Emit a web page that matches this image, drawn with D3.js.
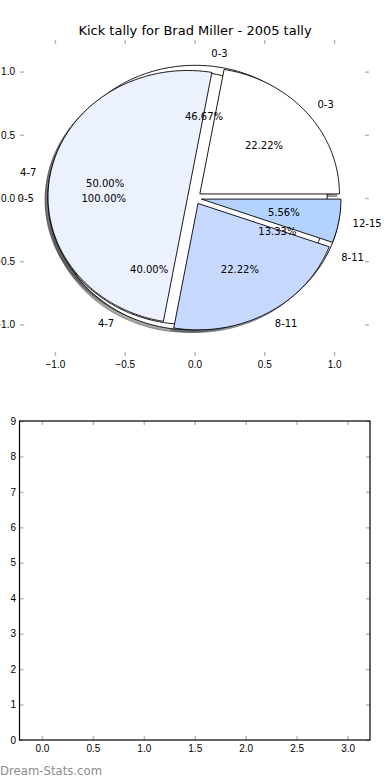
<!DOCTYPE html>
<html>
<head>
  <meta charset="UTF-8" />
  <script src="https://d3js.org/d3.v7.min.js"></script>
  <style>
    body { margin: 0; background: #fff; }
    svg { display: block; font-family: "DejaVu Sans", sans-serif; }
    .tick line { stroke: #b8b8b8; stroke-width: 1.5; }
    .tick text { font-size: 10px; fill: #000; }
  </style>
</head>
<body>
  <div id="chart"></div>
  <script>
    // pie data: three tallies drawn on the same axes
    const labels1 = ["0-3", "4-7", "8-11", "12-15"];
    const values1 = [4, 9, 4, 1];
    const labels2 = ["0-3", "4-7", "8-11"];
    const values2 = [7, 6, 2];
    const labels3 = ["0-5"];
    const values3 = [1];

    const colors1 = ["#ffffff", "#ebf1fd", "#c6d8fd", "#b3d3fe"];
    const colors2 = ["#ffffff", "#ffffff", "#ffffff"];
    const colors3 = ["#ffffff"];

    const pieTicks = [-1.0, -0.5, 0.0, 0.5, 1.0];
    const barXTicks = [0.0, 0.5, 1.0, 1.5, 2.0, 2.5, 3.0];
    const barYTicks = [0, 1, 2, 3, 4, 5, 6, 7, 8, 9];

    const width = 390, height = 780;
    const explode = 0.05;

    const svg = d3.select("#chart").append("svg")
      .attr("width", width)
      .attr("height", height);

    // top axes (pie)
    const x1 = d3.scaleLinear().domain([-1.25, 1.25]).range([20, 369]);
    const y1 = d3.scaleLinear().domain([-1.25, 1.25]).range([356, 40]);

    svg.append("text")
      .attr("x", 195).attr("y", 34.5)
      .attr("text-anchor", "middle")
      .attr("font-size", 13)
      .text("Kick tally for Brad Miller - 2005 tally");

    const fmt = d3.format(".1f");

    function addTicks(g, x, y, xt, yt, showBox, yPad) {
      const [l, r] = x.range();
      const [b, t] = y.range();
      g.append("g").attr("transform", `translate(0,${b})`)
        .call(d3.axisBottom(x).tickValues(xt).tickFormat(fmt).tickSizeInner(-4).tickSizeOuter(0).tickPadding(5))
        .call(a => a.select(".domain").remove());
      g.append("g").attr("transform", `translate(0,${t})`)
        .call(d3.axisTop(x).tickValues(xt).tickFormat("").tickSizeInner(-4).tickSizeOuter(0))
        .call(a => a.select(".domain").remove());
      g.append("g").attr("transform", `translate(${l},0)`)
        .call(d3.axisLeft(y).tickValues(yt).tickFormat(y === y1 ? fmt : d3.format("d")).tickSizeInner(-4).tickSizeOuter(0).tickPadding(yPad))
        .call(a => a.select(".domain").remove());
      g.append("g").attr("transform", `translate(${r},0)`)
        .call(d3.axisRight(y).tickValues(yt).tickFormat("").tickSizeInner(-4).tickSizeOuter(0))
        .call(a => a.select(".domain").remove());
      if (showBox) {
        g.append("rect")
          .attr("x", l).attr("y", t)
          .attr("width", r - l).attr("height", b - t)
          .attr("fill", "none").attr("stroke", "#000").attr("stroke-width", 1.2);
      }
    }

    addTicks(svg.append("g"), x1, y1, pieTicks, pieTicks, false, 5);

    const pie = d3.pie().sort(null).startAngle(0).endAngle(2 * Math.PI);

    function wedgePoints(cx, cy, a0, a1, full) {
      const n = Math.max(8, Math.ceil((a1 - a0) / (Math.PI / 180)));
      const pts = full ? [] : [[cx, cy]];
      for (let i = 0; i <= n; i++) {
        const a = a0 + (a1 - a0) * i / n;
        pts.push([cx + Math.cos(a), cy + Math.sin(a)]);
      }
      return pts;
    }

    function buildPie(labels, values, colors) {
      const total = d3.sum(values);
      return pie(values).map((d, i) => {
        const mid = (d.startAngle + d.endAngle) / 2;
        return {
          label: labels[i],
          pct: (100 * values[i] / total).toFixed(2) + "%",
          color: colors[i],
          a0: d.startAngle, a1: d.endAngle, mid,
          cx: explode * Math.cos(mid), cy: explode * Math.sin(mid),
          full: values.length === 1
        };
      });
    }

    const pies = [
      buildPie(labels2, values2, colors2),
      buildPie(labels3, values3, colors3),
      buildPie(labels1, values1, colors1)
    ];

    const line = d3.line().curve(d3.curveLinearClosed);
    const pieG = svg.append("g");

    // shadows under everything
    pies.flat().forEach(w => {
      const c = d3.rgb(w.color);
      const sc = d3.rgb(c.r * 0.3, c.g * 0.3, c.b * 0.3);
      pieG.append("path")
        .attr("d", line(wedgePoints(w.cx - 0.02, w.cy - 0.02, w.a0, w.a1, w.full).map(p => [x1(p[0]), y1(p[1])])))
        .attr("fill", sc).attr("fill-opacity", 0.5)
        .attr("stroke", sc).attr("stroke-opacity", 0.5).attr("stroke-width", 1);
    });

    pies.flat().forEach(w => {
      pieG.append("path")
        .attr("d", line(wedgePoints(w.cx, w.cy, w.a0, w.a1, w.full).map(p => [x1(p[0]), y1(p[1])])))
        .attr("fill", w.color)
        .attr("stroke", "#000").attr("stroke-width", 0.9)
        .attr("stroke-linejoin", "round");
    });

    pies.flat().forEach(w => {
      const lx = w.cx + 1.1 * Math.cos(w.mid);
      const ly = w.cy + 1.1 * Math.sin(w.mid);
      pieG.append("text")
        .attr("x", x1(lx)).attr("y", y1(ly))
        .attr("dy", "0.35em")
        .attr("text-anchor", lx > 0 ? "start" : "end")
        .attr("font-size", 10)
        .text(w.label);
      const px = w.cx + 0.6 * Math.cos(w.mid);
      const py = w.cy + 0.6 * Math.sin(w.mid);
      pieG.append("text")
        .attr("x", x1(px)).attr("y", y1(py))
        .attr("dy", "0.35em")
        .attr("text-anchor", "middle")
        .attr("font-size", 10)
        .text(w.pct);
    });

    // bottom axes (empty)
    const x2 = d3.scaleLinear().domain([-0.22, 3.22]).range([19.5, 370]);
    const y2 = d3.scaleLinear().domain([0, 9]).range([740, 421]);
    addTicks(svg.append("g"), x2, y2, barXTicks, barYTicks, true, 3.5);

    svg.append("text")
      .attr("x", 0).attr("y", 774.5)
      .attr("font-size", 11.7)
      .attr("fill", "#8c8c8c")
      .text("Dream-Stats.com");
  </script>
</body>
</html>
